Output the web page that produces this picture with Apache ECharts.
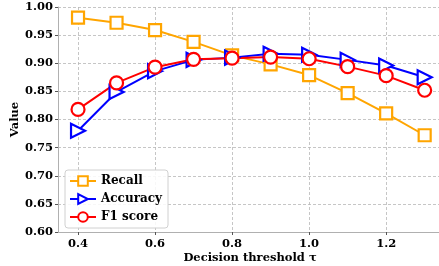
<!DOCTYPE html>
<html>
<head>
<meta charset="utf-8">
<script src="https://cdn.jsdelivr.net/npm/echarts@6/dist/echarts.min.js"></script>
<style>
  html, body { margin: 0; padding: 0; background: #fff; }
  #chart { width: 439px; height: 266px; }
</style>
</head>
<body>
<div id="chart"></div>
<script>
  // decision thresholds
  const thresholds = [0.4, 0.5, 0.6, 0.7, 0.8, 0.9, 1.0, 1.1, 1.2, 1.3]
  const recall = [0.981, 0.972, 0.959, 0.938, 0.914, 0.898, 0.879, 0.847, 0.811, 0.772]
  const accuracy = [0.780, 0.849, 0.886, 0.906, 0.910, 0.917, 0.915, 0.906, 0.896, 0.875]
  const f1score = [0.818, 0.865, 0.893, 0.907, 0.909, 0.911, 0.908, 0.894, 0.878, 0.852]
  const xTickLabels = ['0.4', '0.6', '0.8', '1.0', '1.2']
  const yTickLabels = ['0.60', '0.65', '0.70', '0.75', '0.80', '0.85', '0.90', '0.95', '1.00']

  const font = 'DejaVu Serif'
  const pair = (ys) => thresholds.map((x, i) => [x, ys[i]])

  const chart = echarts.init(document.getElementById('chart'), null, { renderer: 'canvas' })

  const mkSeries = (name, data, color, symbol, size, rotate) => ({
    name: name,
    type: 'line',
    data: pair(data),
    symbol: symbol,
    symbolSize: size,
    symbolRotate: rotate || 0,
    lineStyle: { color: color, width: 2 },
    itemStyle: { color: '#fff', borderColor: color, borderWidth: 2.2 },
    emphasis: { disabled: true },
    animation: false
  })

  const option = {
    animation: false,
    grid: { left: 58, top: 7, width: 384, bottom: 34, outerBoundsMode: 'none', containLabel: false },
    legend: {
      orient: 'vertical',
      left: 65,
      top: 170,
      itemWidth: 26,
      itemHeight: 12,
      itemGap: 6,
      padding: [5, 6, 5, 4],
      borderColor: '#d0d0d0',
      borderWidth: 1,
      borderRadius: 3,
      backgroundColor: 'rgba(255,255,255,0.85)',
      textStyle: { fontFamily: font, fontWeight: 'bold', fontSize: 12, color: '#000' },
      data: ['Recall', 'Accuracy', 'F1 score']
    },
    xAxis: {
      type: 'value',
      min: 0.348,
      max: 1.345,
      splitNumber: 5,
      name: 'Decision threshold τ',
      nameLocation: 'middle',
      nameGap: 20,
      nameMoveOverlap: false,
      nameTextStyle: { fontFamily: font, fontWeight: 'bold', fontSize: 11.5, color: '#000' },
      axisLine: { lineStyle: { color: '#b0b0b0', width: 1 } },
      axisTick: { show: true, length: 3, lineStyle: { color: '#555' } },
      axisLabel: {
        fontFamily: font, fontWeight: 'bold', fontSize: 11.5, color: '#000', margin: 6,
        showMinLabel: false, showMaxLabel: false,
        formatter: (v) => {
          const s = v.toFixed(1)
          return xTickLabels.indexOf(s) >= 0 ? s : ''
        }
      },
      splitLine: { show: true, lineStyle: { color: '#b8b8b8', type: [3, 2], width: 0.8 } }
    },
    yAxis: {
      type: 'value',
      min: 0.6,
      max: 1.0,
      interval: 0.05,
      name: 'Value',
      nameLocation: 'middle',
      nameGap: 37,
      nameMoveOverlap: false,
      nameTextStyle: { fontFamily: font, fontWeight: 'bold', fontSize: 11.5, color: '#000' },
      axisLine: { show: true, lineStyle: { color: '#b0b0b0', width: 1 } },
      axisTick: { show: true, length: 3, lineStyle: { color: '#555' } },
      axisLabel: {
        fontFamily: font, fontWeight: 'bold', fontSize: 11.5, color: '#000', margin: 5,
        formatter: (v) => {
          const s = v.toFixed(2)
          return yTickLabels.indexOf(s) >= 0 ? s : ''
        }
      },
      splitLine: { show: true, lineStyle: { color: '#b8b8b8', type: [3, 2], width: 0.8 } }
    },
    series: [
      mkSeries('Recall', recall, '#FFA500', 'rect', 12),
      mkSeries('Accuracy', accuracy, '#0000FF', 'triangle', 14, -90),
      mkSeries('F1 score', f1score, '#FF0000', 'circle', 13)
    ]
  }

  chart.setOption(option)
</script>
</body>
</html>
